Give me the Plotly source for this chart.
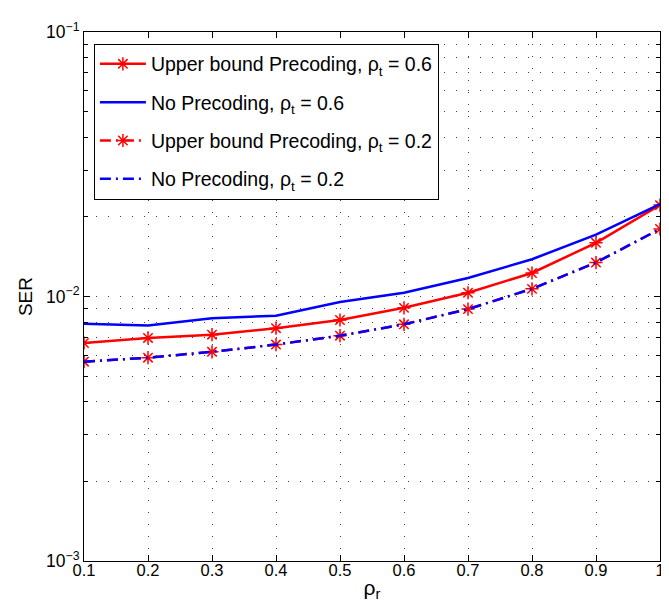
import plotly.graph_objects as go

rho_r = [0.1, 0.2, 0.3, 0.4, 0.5, 0.6, 0.7, 0.8, 0.9, 1.0]
ub_06 = [0.00667, 0.00697, 0.00717, 0.00759, 0.00815, 0.00906, 0.01033, 0.01227, 0.01596, 0.02216]
np_06 = [0.00788, 0.00777, 0.00827, 0.00846, 0.00954, 0.01033, 0.01175, 0.01383, 0.01714, 0.02235]
ub_02 = [0.00567, 0.00587, 0.00618, 0.00658, 0.00711, 0.00785, 0.00896, 0.01069, 0.01344, 0.01800]
np_02 = [0.00567, 0.00587, 0.00618, 0.00658, 0.00711, 0.00785, 0.00896, 0.01069, 0.01344, 0.01800]

x_ticks = [0.1, 0.2, 0.3, 0.4, 0.5, 0.6, 0.7, 0.8, 0.9, 1.0]
x_ticktext = ["0.1", "0.2", "0.3", "0.4", "0.5", "0.6", "0.7", "0.8", "0.9", "1"]
y_ticks = [0.001, 0.01, 0.1]
y_ticktext = ["10<sup>\u22123</sup>", "10<sup>\u22122</sup>", "10<sup>\u22121</sup>"]
y_minor = [m * d for d in (0.001, 0.01) for m in range(2, 10)]

names = [
    "Upper bound Precoding, \u03c1<sub>t</sub> = 0.6",
    "No Precoding, \u03c1<sub>t</sub> = 0.6",
    "Upper bound Precoding, \u03c1<sub>t</sub> = 0.2",
    "No Precoding, \u03c1<sub>t</sub> = 0.2",
]

RED = "#ff0000"
BLUE = "#0000ff"
DASHDOT = "11px,5px,2px,5px"

fig = go.Figure()
fig.add_trace(go.Scatter(x=rho_r, y=ub_06, name=names[0], mode="lines+markers",
                         line=dict(color=RED, width=2.5),
                         marker=dict(symbol="asterisk-open", size=11, line=dict(color=RED, width=1.5)),
                         legendgroup="a"))
fig.add_trace(go.Scatter(x=rho_r, y=np_06, name=names[1], mode="lines",
                         line=dict(color=BLUE, width=2.5), legendgroup="b"))
fig.add_trace(go.Scatter(x=rho_r, y=ub_02, name=names[2], mode="lines+markers",
                         line=dict(color=RED, width=2.5, dash=DASHDOT),
                         marker=dict(symbol="asterisk-open", size=11, line=dict(color=RED, width=1.5)),
                         legendgroup="c"))
fig.add_trace(go.Scatter(x=rho_r, y=np_02, name=names[3], mode="lines",
                         line=dict(color=BLUE, width=2.5, dash=DASHDOT), legendgroup="d"))

GRIDDASH = "1px,11px"
GRIDCOLOR = "#444444"

fig.update_layout(
    width=669, height=605,
    margin=dict(l=76, r=12, t=16, b=52),
    paper_bgcolor="white", plot_bgcolor="white",
    font=dict(family="Liberation Sans, Arial, Helvetica, sans-serif", size=16, color="black"),
    showlegend=True,
    legend=dict(
        x=0.0172, y=0.978, xanchor="left", yanchor="top",
        bgcolor="white", bordercolor="black", borderwidth=1,
        font=dict(size=19.5), itemwidth=46, tracegroupgap=10,
        traceorder="grouped", entrywidth=300, entrywidthmode="pixels",
    ),
    xaxis=dict(
        range=[0.1, 1.0], tickvals=x_ticks, ticktext=x_ticktext,
        ticks="inside", ticklen=6, tickcolor="black", tickwidth=1,
        showline=True, linecolor="black", linewidth=1, mirror="ticks",
        showgrid=True, gridcolor=GRIDCOLOR, gridwidth=1, griddash=GRIDDASH,
        zeroline=False,
        title=dict(text="\u03c1<sub>r</sub>", font=dict(size=21), standoff=2),
        tickfont=dict(size=16.5),
        ticklabelstandoff=-6,
    ),
    yaxis=dict(
        type="log", range=[-3, -1], tickvals=y_ticks, ticktext=y_ticktext,
        ticks="inside", ticklen=6, tickcolor="black", tickwidth=1,
        showline=True, linecolor="black", linewidth=1, mirror="ticks",
        showgrid=True, gridcolor=GRIDCOLOR, gridwidth=1, griddash=GRIDDASH,
        zeroline=False,
        minor=dict(tickvals=y_minor, ticks="inside", ticklen=4, tickcolor="black",
                   showgrid=True, gridcolor=GRIDCOLOR, gridwidth=1, griddash=GRIDDASH),
        title=dict(text="SER", font=dict(size=19), standoff=8),
        tickfont=dict(size=17.5),
    ),
)

fig.write_html("out.html")
